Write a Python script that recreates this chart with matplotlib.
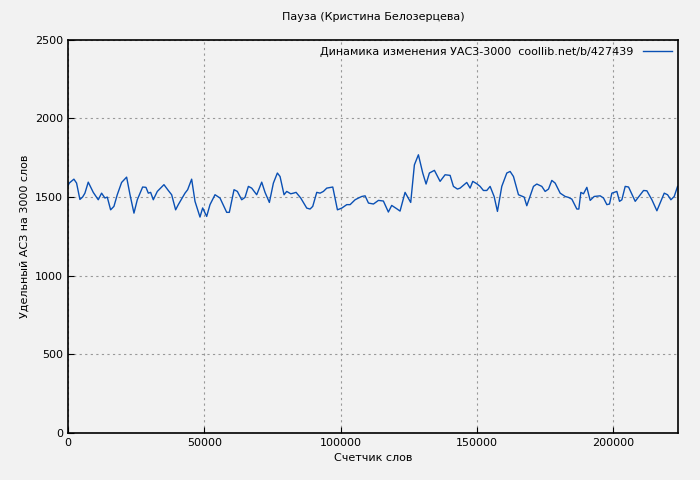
import matplotlib.pyplot as plt

words = [0, 490, 2200, 3180, 4400, 5380, 6240, 7460, 9300, 11130, 12350, 13580, 14430,
         15660, 16880, 18100, 19690, 21530, 22750, 24220, 25440, 27400, 28620, 29480,
         30330, 31310, 32780, 35220, 36810, 38040, 39500, 40480, 42930, 43910, 45370,
         46600, 48430, 49410, 50880, 52100, 53940, 55770, 58220, 59190, 60910, 62130,
         63720, 64940, 66170, 67390, 69220, 71060, 72280, 73870, 75340, 76800, 77780,
         79250, 80230, 81700, 82680, 83660, 85370, 87570, 88790, 89770, 91240, 92460,
         93680, 94910, 97110, 98820, 100410, 102250, 103470, 105300, 106530, 107750,
         108970, 110200, 112030, 113860, 115670, 117500, 118720, 120560, 121780, 123620,
         125690, 127040, 128510, 130100, 131320, 132540, 134380, 136460, 138290, 140130,
         141350, 142820, 143790, 146240, 147460, 148440, 149910, 151130, 152350, 153580,
         154800, 156270, 157490, 159080, 160920, 162140, 163360, 165200, 167280, 168250,
         170700, 171920, 173760, 174980, 176210, 177430, 178650, 180490, 182320, 183540,
         184770, 186600, 187330, 188070, 189040, 190270, 191490, 192960, 195160, 196380,
         197610, 198580, 199440, 201270, 202250, 203110, 204330, 205560, 208000, 211060,
         212280, 214120, 215950, 218640, 219860, 221080, 222310, 223530]
uas = [1570, 1589, 1614, 1589, 1485, 1500, 1525, 1595, 1530, 1483, 1525, 1494, 1500,
       1419, 1441, 1515, 1593, 1627, 1517, 1398, 1483, 1564, 1562, 1525,
       1530, 1483, 1536, 1579, 1542, 1515, 1419, 1452, 1525, 1547, 1614,
       1473, 1373, 1431, 1377, 1452, 1515, 1494, 1403, 1403, 1547, 1536,
       1483, 1498, 1568, 1557, 1515, 1595, 1530, 1466, 1589, 1653, 1631,
       1515, 1536, 1521, 1525, 1530, 1494, 1430, 1424, 1441, 1530, 1525,
       1536, 1557, 1564, 1419, 1430, 1452, 1452, 1483, 1494, 1504,
       1508, 1462, 1456, 1479, 1475, 1405, 1447, 1426, 1411, 1530,
       1466, 1705, 1769, 1653, 1583, 1653, 1670, 1600, 1642, 1638,
       1568, 1551, 1557, 1593, 1557, 1600, 1585, 1568, 1542, 1542,
       1568, 1504, 1409, 1568, 1653, 1663, 1631, 1515, 1500, 1445,
       1568, 1583, 1568, 1536, 1551, 1606, 1589, 1525, 1504, 1498,
       1487, 1424, 1424, 1530, 1521, 1562, 1479, 1504, 1508, 1494,
       1452, 1456, 1525, 1536, 1473, 1483, 1568, 1564, 1473, 1542,
       1540, 1483, 1413, 1525, 1515, 1483, 1504, 1568]

bg = '#f2f2f2'
fig = plt.figure(figsize=(7, 4.8), dpi=100, facecolor=bg)
ax = fig.add_axes([0.097, 0.098, 0.872, 0.819], facecolor=bg)
ax.plot(words, uas, color='#0a50b4', lw=1,
        label='Динамика изменения УАС3-3000  coollib.net/b/427439')
ax.set_xlim(0, 223800)
ax.set_ylim(0, 2500)
ax.set_xticks([0, 50000, 100000, 150000, 200000])
ax.set_yticks([0, 500, 1000, 1500, 2000, 2500])
ax.grid(True, color='#999999', linestyle=(0, (2, 3)), lw=0.8)
ax.tick_params(labelsize=8, direction='in', length=4)
for s in ax.spines.values():
    s.set_linewidth(1.2)
ax.set_title('Пауза (Кристина Белозерцева)', fontsize=8, pad=14)
ax.set_xlabel('Счетчик слов', fontsize=8)
ax.set_ylabel('Удельный АСЗ на 3000 слов', fontsize=8)
leg = ax.legend(loc='upper right', fontsize=8, frameon=False, markerfirst=False,
                handlelength=2.6, borderaxespad=0.2)
fig.savefig('out.png', facecolor=bg)
